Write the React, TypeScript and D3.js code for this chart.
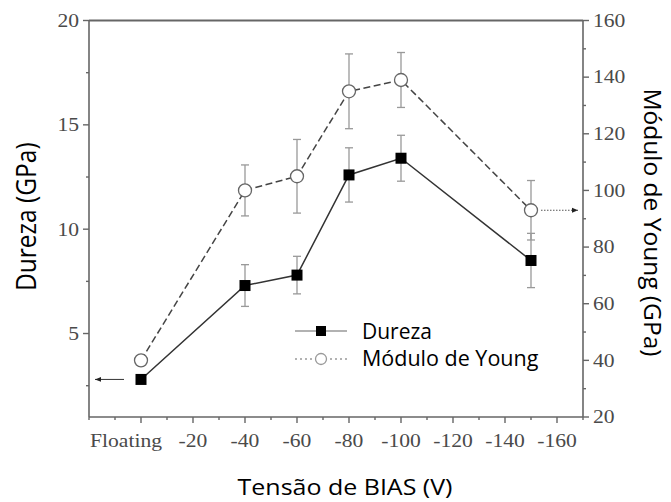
import React from "react";
import * as d3 from "d3";

// ---- data ----
const xTickValues = [0, -20, -40, -60, -80, -100, -120, -140, -160];
const xTickLabels = ["Floating", "-20", "-40", "-60", "-80", "-100", "-120", "-140", "-160"];
const xMinorTicks = [20, 10, -10, -30, -50, -70, -90, -110, -130, -150, -170];
const leftTicks = [5, 10, 15, 20];
const leftMinor = [2.5, 7.5, 12.5, 17.5];
const rightTicks = [20, 40, 60, 80, 100, 120, 140, 160];
const rightMinor = [30, 50, 70, 90, 110, 130, 150];

const biasV = [0, -40, -60, -80, -100, -150];
const dureza = [2.8, 7.3, 7.8, 12.6, 13.4, 8.5];
const durezaErr = [0, 1.0, 0.9, 1.3, 1.1, 1.3];
const young = [40, 100, 105, 135, 139, 93];
const youngErr = [0, 9, 13, 13.2, 9.7, 10.5];

const seriesNames = ["Dureza", "Módulo de Young"];
const xTitle = "Tensão de BIAS (V)";
const yLeftTitle = "Dureza (GPa)";
const yRightTitle = "Módulo de Young (GPa)";

const W = 671;
const H = 502;
const L = 89, R = 583, T = 20.5, B = 417;

const SERIF = "'Liberation Serif', 'Times New Roman', serif";
const SANS = "'Open Sans', sans-serif";
const AX = "#666";

export default function App() {
  const x = d3.scaleLinear().domain([20, -170]).range([L, R]);
  const yL = d3.scaleLinear().domain([1, 20]).range([B, T]);
  const yR = d3.scaleLinear().domain([20, 160]).range([B, T]);

  const durPts = biasV.map((v, i) => [x(v), yL(dureza[i])] as [number, number]);
  const youPts = biasV.map((v, i) => [x(v), yR(young[i])] as [number, number]);
  const line = d3.line();

  const sx = 1.2;
  const serifText = (tx: number, ty: number, s: string, anchor: string, key: string) => (
    <text key={key} transform={`translate(${tx},${ty}) scale(${sx},1)`} textAnchor={anchor}
      fontFamily={SERIF} fontSize={18} fill="#4a4a4a" dominantBaseline="central">{s}</text>
  );

  const cap = 4;
  const arrowLY = yL(dureza[0]);
  const arrowRY = yR(young[5]);

  return (
    <svg width={W} height={H} style={{ position: "absolute", left: 0, top: 0, background: "#fff" }}>
      <defs>
        <marker id="ah" viewBox="0 0 10 10" refX="10" refY="5" markerWidth="7" markerHeight="6" orient="auto" markerUnits="userSpaceOnUse">
          <path d="M0,1 L10,5 L0,9 Z" fill="#222" />
        </marker>
      </defs>
      {/* frame */}
      <line x1={L} x2={R} y1={T} y2={T} stroke={AX} strokeWidth={1.8} />
      <line x1={L} x2={L} y1={T} y2={B} stroke={AX} strokeWidth={1.6} />
      <line x1={R} x2={R} y1={T} y2={B} stroke={AX} strokeWidth={1.6} />
      <line x1={L} x2={R} y1={B} y2={B} stroke={AX} strokeWidth={1.6} />

      {/* left ticks */}
      {leftTicks.map((v) => (
        <g key={"lt" + v}>
          <line x1={L - 6} x2={L} y1={yL(v)} y2={yL(v)} stroke={AX} strokeWidth={1.4} />
          {serifText(L - 10, yL(v), String(v), "end", "ltl" + v)}
        </g>
      ))}
      {leftMinor.map((v) => (
        <line key={"lm" + v} x1={L - 3} x2={L} y1={yL(v)} y2={yL(v)} stroke={AX} strokeWidth={1.4} />
      ))}
      {/* right ticks */}
      {rightTicks.map((v) => (
        <g key={"rt" + v}>
          <line x1={R} x2={R + 6} y1={yR(v)} y2={yR(v)} stroke={AX} strokeWidth={1.4} />
          {serifText(R + 10, yR(v), String(v), "start", "rtl" + v)}
        </g>
      ))}
      {rightMinor.map((v) => (
        <line key={"rm" + v} x1={R} x2={R + 3} y1={yR(v)} y2={yR(v)} stroke={AX} strokeWidth={1.4} />
      ))}
      {/* x ticks */}
      {xTickValues.map((v, i) => (
        <g key={"xt" + v}>
          <line x1={x(v)} x2={x(v)} y1={B} y2={B + 6} stroke={AX} strokeWidth={1.4} />
          {serifText(x(v) - (i === 0 ? 15 : 0), B + 24, xTickLabels[i], "middle", "xtl" + v)}
        </g>
      ))}
      {xMinorTicks.map((v) => (
        <line key={"xm" + v} x1={x(v)} x2={x(v)} y1={B} y2={B + 3} stroke={AX} strokeWidth={1.4} />
      ))}

      {/* error bars */}
      {biasV.map((v, i) => youngErr[i] > 0 && (
        <g key={"ye" + v} stroke="#999" strokeWidth={1.3}>
          <line x1={x(v)} x2={x(v)} y1={yR(young[i] - youngErr[i])} y2={yR(young[i] + youngErr[i])} />
          <line x1={x(v) - cap} x2={x(v) + cap} y1={yR(young[i] - youngErr[i])} y2={yR(young[i] - youngErr[i])} />
          <line x1={x(v) - cap} x2={x(v) + cap} y1={yR(young[i] + youngErr[i])} y2={yR(young[i] + youngErr[i])} />
        </g>
      ))}
      {biasV.map((v, i) => durezaErr[i] > 0 && (
        <g key={"de" + v} stroke="#999" strokeWidth={1.3}>
          <line x1={x(v)} x2={x(v)} y1={yL(dureza[i] - durezaErr[i])} y2={yL(dureza[i] + durezaErr[i])} />
          <line x1={x(v) - cap} x2={x(v) + cap} y1={yL(dureza[i] - durezaErr[i])} y2={yL(dureza[i] - durezaErr[i])} />
          <line x1={x(v) - cap} x2={x(v) + cap} y1={yL(dureza[i] + durezaErr[i])} y2={yL(dureza[i] + durezaErr[i])} />
        </g>
      ))}

      {/* lines */}
      <path d={line(youPts) || ""} fill="none" stroke="#444" strokeWidth={1.5} strokeDasharray="7,3.5" />
      <path d={line(durPts) || ""} fill="none" stroke="#333" strokeWidth={1.5} />

      {/* markers */}
      {youPts.map((p, i) => (
        <circle key={"yc" + i} cx={p[0]} cy={p[1]} r={6.5} fill="#fff" stroke="#666" strokeWidth={1.3} />
      ))}
      {durPts.map((p, i) => (
        <rect key={"dr" + i} x={p[0] - 5.5} y={p[1] - 5.5} width={11} height={11} fill="#000" />
      ))}

      {/* arrows */}
      <line x1={x(0) - 17} x2={x(20) + 6} y1={arrowLY} y2={arrowLY} stroke="#333" strokeWidth={1} markerEnd="url(#ah)" />
      <line x1={x(-150) + 10} x2={R - 5} y1={arrowRY} y2={arrowRY} stroke="#555" strokeWidth={1} strokeDasharray="1.5,1.5" markerEnd="url(#ah)" />

      {/* legend */}
      <g>
        <line x1={295} x2={347} y1={331} y2={331} stroke="#999" strokeWidth={1.3} />
        <rect x={321 - 5} y={331 - 5} width={10} height={10} fill="#000" />
        <text x={362} y={338.5} fontFamily={SANS} fontSize={21} fill="#000">{seriesNames[0]}</text>
        <line x1={295} x2={347} y1={359} y2={359} stroke="#999" strokeWidth={1.3} strokeDasharray="2,3" />
        <circle cx={321} cy={359} r={5.5} fill="#fff" stroke="#999" strokeWidth={1.3} />
        <text x={362} y={366} fontFamily={SANS} fontSize={21.5} fill="#000">{seriesNames[1]}</text>
      </g>

      {/* titles */}
      <text transform={`translate(345,495) scale(1.19,1)`} textAnchor="middle" fontFamily={SANS} fontSize={21} fill="#000">{xTitle}</text>
      <text transform={`translate(36,216.7) scale(1.14,1) rotate(-90)`} textAnchor="middle" fontFamily={SANS} fontSize={24.5} fill="#000">{yLeftTitle}</text>
      <text transform={`translate(644,222.5) rotate(90)`} textAnchor="middle" fontFamily={SANS} fontSize={24.5} fill="#000">{yRightTitle}</text>
    </svg>
  );
}
